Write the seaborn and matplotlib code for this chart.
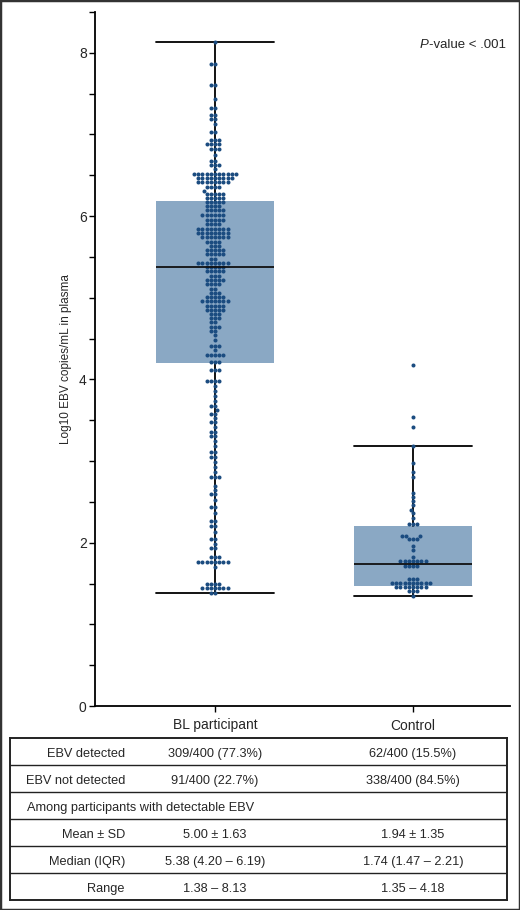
import numpy as np
import pandas as pd
import matplotlib
matplotlib.use("Agg")
from matplotlib import pyplot as plt
from matplotlib import transforms
from matplotlib.ticker import MultipleLocator
import seaborn as sns

groups = ["BL participant", "Control"]

# swarm rows: log10 value of a row and how many dots are in it
bl_levels = [8.13, 7.86, 7.60, 7.43, 7.33, 7.24, 7.19, 7.13, 7.03, 6.93, 6.88, 6.82,
             6.75, 6.68, 6.63, 6.58, 6.52, 6.47, 6.42, 6.36, 6.31, 6.27, 6.22,
             6.17, 6.12, 6.07, 6.01, 5.95, 5.90, 5.84, 5.79, 5.74, 5.68, 5.63, 5.58,
             5.53, 5.48, 5.43, 5.38, 5.33, 5.27, 5.22, 5.17, 5.11, 5.06, 5.01, 4.96,
             4.90, 4.85, 4.80, 4.75, 4.70, 4.64, 4.59, 4.54, 4.48, 4.41, 4.36, 4.30,
             4.21, 4.12, 3.98, 3.92, 3.86, 3.80, 3.74, 3.67, 3.62, 3.58, 3.53, 3.48,
             3.42, 3.36, 3.31, 3.25, 3.18, 3.11, 3.05, 2.99, 2.93, 2.87, 2.81, 2.70,
             2.65, 2.60, 2.52, 2.44, 2.36, 2.27, 2.21, 2.13, 2.05, 1.99, 1.93, 1.83,
             1.76, 1.70, 1.50, 1.44, 1.39]
bl_counts = [1, 2, 2, 1, 2, 2, 2, 1, 2, 3, 4, 3,
             1, 2, 3, 1, 11, 9, 8, 4, 1, 5, 5,
             5, 4, 5, 6, 5, 4, 8, 8, 7, 4, 3, 5,
             5, 2, 8, 5, 5, 3, 5, 4, 2, 3, 5, 7,
             5, 5, 3, 3, 2, 3, 2, 1, 1, 3, 1, 5,
             3, 3, 4, 1, 1, 1, 1, 2, 1, 2, 1, 2,
             1, 2, 2, 1, 1, 2, 2, 1, 1, 1, 3, 1,
             1, 2, 1, 2, 1, 2, 2, 1, 2, 1, 2, 3,
             8, 1, 4, 7, 2]

ctrl_levels = [4.18, 3.54, 3.42, 3.18, 2.98, 2.87, 2.81, 2.61, 2.56, 2.51, 2.46,
               2.40, 2.36, 2.30, 2.23, 2.08, 2.04, 1.96, 1.91, 1.82, 1.77, 1.71,
               1.56, 1.51, 1.46, 1.41, 1.35]
ctrl_counts = [1, 1, 1, 1, 1, 1, 1, 1, 1, 1, 1,
               1, 1, 1, 3, 3, 3, 1, 1, 1, 7, 4,
               3, 10, 8, 3, 1]

# box summaries
box_q1 = [4.20, 1.47]
box_med = [5.38, 1.74]
box_q3 = [6.19, 2.21]
whis_lo = [1.38, 1.35]
whis_hi = [8.13, 3.18]

# table under the plot
row_labels = ["EBV detected", "EBV not detected", "Among participants with detectable EBV",
              "Mean \u00b1 SD", "Median (IQR)", "Range"]
bl_column = ["309/400 (77.3%)", "91/400 (22.7%)", "", "5.00 \u00b1 1.63",
             "5.38 (4.20 \u2013 6.19)", "1.38 \u2013 8.13"]
ctrl_column = ["62/400 (15.5%)", "338/400 (84.5%)", "", "1.94 \u00b1 1.35",
               "1.74 (1.47 \u2013 2.21)", "1.35 \u2013 4.18"]

dot_color = "#1b4c80"
box_color = "#8aa8c4"

sns.set_style("ticks")
plt.rcParams["font.family"] = ["Liberation Sans", "DejaVu Sans"]

df = pd.DataFrame({
    "group": [groups[0]] * sum(bl_counts) + [groups[1]] * sum(ctrl_counts),
    "value": np.concatenate([np.repeat(bl_levels, bl_counts), np.repeat(ctrl_levels, ctrl_counts)]),
})

fig = plt.figure(figsize=(5.2, 9.1), dpi=100)
ax = fig.add_axes([95 / 520, 1 - 706 / 910, 415 / 520, 694 / 910])

stats = []
for i in range(len(groups)):
    stats.append({"q1": box_q1[i], "med": box_med[i], "q3": box_q3[i],
                  "whislo": whis_lo[i], "whishi": whis_hi[i], "fliers": []})
ax.bxp(stats, positions=[0, 1], widths=0.6, capwidths=0.6, patch_artist=True,
       showfliers=False, manage_ticks=False,
       boxprops=dict(facecolor=box_color, edgecolor="none", zorder=1),
       whiskerprops=dict(color="black", lw=1.3, zorder=1.5),
       capprops=dict(color="black", lw=1.3, zorder=1.5),
       medianprops=dict(color="#111111", lw=1.3, zorder=4))

sns.swarmplot(data=df, x="group", y="value", order=groups, color=dot_color,
              size=2.9, linewidth=0, ax=ax, zorder=3)

ax.set_xlim(-0.606, 1.49)
ax.set_ylim(0, 8.5)
ax.yaxis.set_major_locator(MultipleLocator(2))
ax.yaxis.set_minor_locator(MultipleLocator(0.5))
ax.tick_params(axis="y", which="both", length=4, width=1, color="black", labelsize=10, pad=2)
ax.tick_params(axis="x", length=4, width=1, color="black", labelsize=10, pad=5)
for s in ["top", "right"]:
    ax.spines[s].set_visible(False)
for s in ["left", "bottom"]:
    ax.spines[s].set_linewidth(1.3)
    ax.spines[s].set_color("black")
ax.set_xlabel("")
ax.set_ylabel("Log10 EBV copies/mL in plasma", fontsize=8.5, labelpad=5)

p = ax.text(0.783, 0.952, "P", style="italic", fontsize=9.5, transform=ax.transAxes, va="center")
ax.annotate("-value < .001", xy=(1, 0.5), xycoords=p, va="center", fontsize=9.5)

# table
tab = fig.add_axes([10 / 520, 10 / 910, 497 / 520, 162 / 910])
tab.set_xlim(0, 1)
tab.set_ylim(len(row_labels), 0)
tab.set_xticks([])
tab.set_yticks([])
for s in tab.spines.values():
    s.set_linewidth(1.4)
    s.set_color("#222222")
for r in range(1, len(row_labels)):
    tab.axhline(r, color="#222222", lw=1)

col_tr = transforms.blended_transform_factory(ax.transData, tab.transData)
lab_tr = transforms.blended_transform_factory(fig.transFigure, tab.transData)
for r, lab in enumerate(row_labels):
    y = r + 0.52
    if bl_column[r] == "":
        tab.text(27 / 520, y, lab, transform=lab_tr, ha="left", va="center_baseline", fontsize=9.2)
    else:
        tab.text(125 / 520, y, lab, transform=lab_tr, ha="right", va="center_baseline", fontsize=9.2)
    tab.text(0, y, bl_column[r], transform=col_tr, ha="center", va="center_baseline", fontsize=9.2)
    tab.text(1, y, ctrl_column[r], transform=col_tr, ha="center", va="center_baseline", fontsize=9.2)

fig.patches.append(plt.Rectangle((0, 0), 1, 1, transform=fig.transFigure, fill=False,
                                 edgecolor="#333333", lw=2.5, zorder=10))

fig.savefig("out.png", dpi=100)
